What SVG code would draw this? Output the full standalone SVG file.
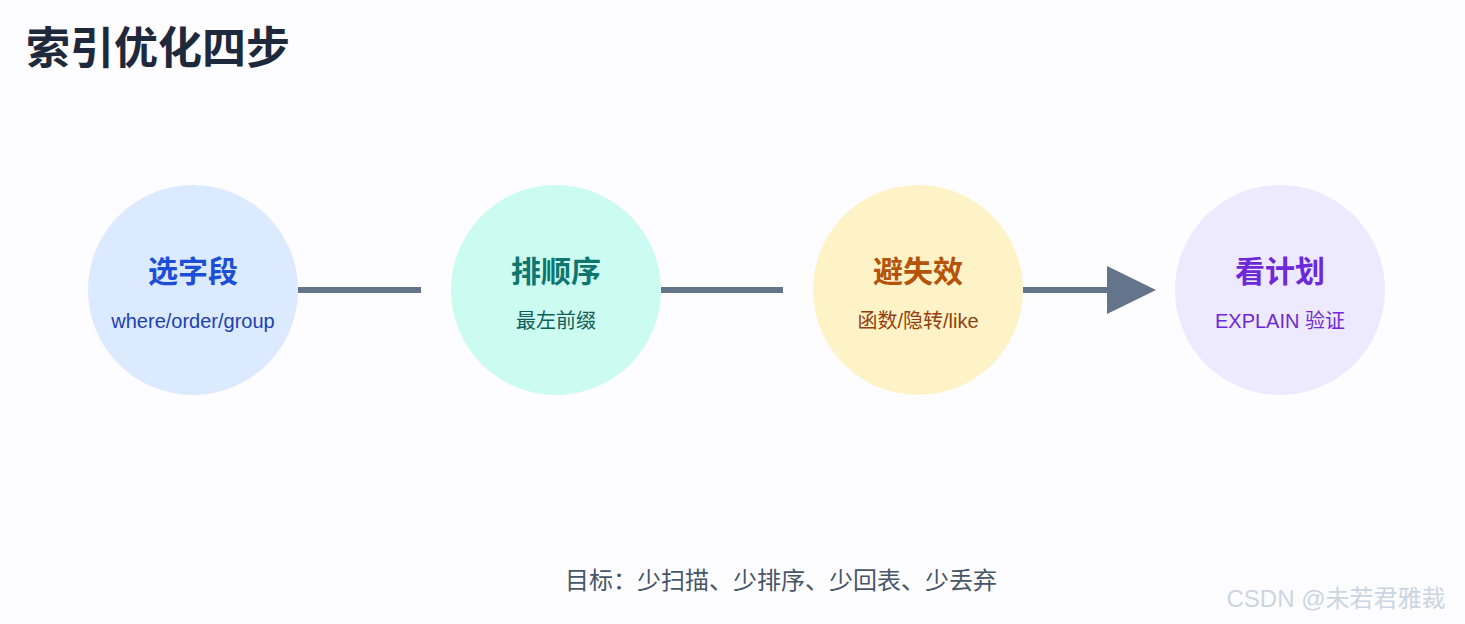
<svg xmlns="http://www.w3.org/2000/svg" width="1465" height="624" viewBox="0 0 1465 624">
<defs>
<style>
text{font-family:"Liberation Sans","Noto Sans CJK SC",sans-serif;text-anchor:middle}
.t{font-size:30px;font-weight:bold}
.s{font-size:20px}
.c{stroke:#64748b;stroke-width:6;fill:none}
</style>
</defs>
<rect width="1465" height="624" fill="#fdfcff"/>
<text x="26" y="64" style="text-anchor:start;font-size:44px;font-weight:bold" fill="#1e293b">索引优化四步</text>
<g id="connectors">
<line class="c" x1="298" y1="290" x2="421" y2="290"/>
<line class="c" x1="661" y1="290" x2="783" y2="290"/>
<line class="c" x1="1023" y1="290" x2="1110" y2="290"/>
<polygon points="1107,266 1156,290 1107,314" fill="#64748b"/>
</g>
<g id="n1"><circle cx="193" cy="290" r="105" fill="#dbeafe"/><text class="t" x="193" y="282" fill="#1d4ed8">选字段</text><text class="s" x="193" y="328" fill="#1e40af">where/order/group</text></g>
<g id="n2"><circle cx="556" cy="290" r="105" fill="#ccfbf1"/><text class="t" x="556" y="282" fill="#0f766e">排顺序</text><text class="s" x="556" y="328" fill="#115e59">最左前缀</text></g>
<g id="n3"><circle cx="918" cy="290" r="105" fill="#fef3c7"/><text class="t" x="918" y="282" fill="#b45309">避失效</text><text class="s" x="918" y="328" fill="#92400e">函数/隐转/like</text></g>
<g id="n4"><circle cx="1280" cy="290" r="105" fill="#ede9fe"/><text class="t" x="1280" y="282" fill="#6d28d9">看计划</text><text class="s" x="1280" y="328" fill="#6d28d9">EXPLAIN 验证</text></g>
<text x="781" y="589" style="font-size:24px" fill="#475569">目标：少扫描、少排序、少回表、少丢弃</text>
<text x="1336" y="607" style="font-size:24px" fill="#cbd5e1">CSDN @未若君雅裁</text>
</svg>
